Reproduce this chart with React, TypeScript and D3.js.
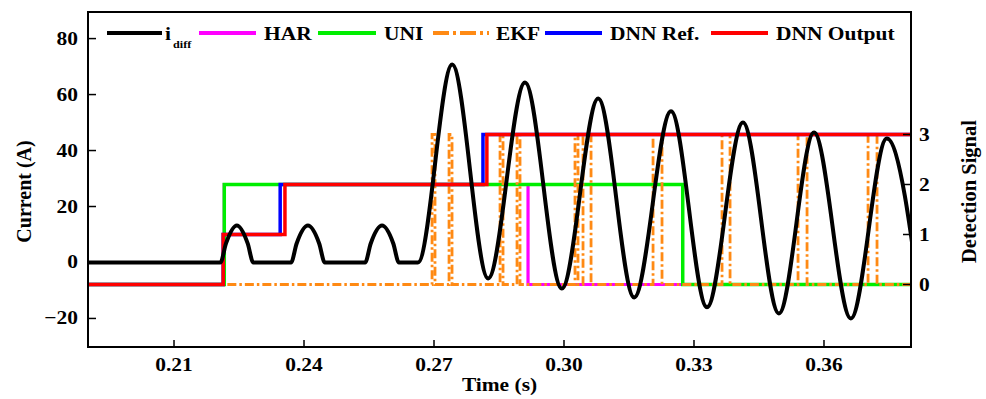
import React from 'react';
import * as d3 from 'd3';

// ---------- data ----------
const xTicks = [0.21, 0.24, 0.27, 0.3, 0.33, 0.36];
const xTickLabels = ['0.21', '0.24', '0.27', '0.30', '0.33', '0.36'];
const yLeftTicks = [-20, 0, 20, 40, 60, 80];
const yLeftTickLabels = ['\u221220', '0', '20', '40', '60', '80'];
const yRightTicks = [0, 1, 2, 3];
const yRightTickLabels = ['0', '1', '2', '3'];

// i_diff key points (time s, current A)
const idiffTime = [
  0.19, 0.2207, 0.222, 0.2245, 0.227, 0.2283,
  0.237, 0.2383, 0.2409, 0.2435, 0.2448,
  0.2541, 0.2554, 0.258, 0.2606, 0.2619,
  0.2663, 0.2742, 0.2825, 0.291, 0.2995, 0.3079, 0.3162, 0.3247,
  0.333, 0.3413, 0.3496, 0.3577, 0.3662, 0.3745, 0.3828,
];
const idiffCurrent = [
  0, 0, 6.8, 13.2, 6.8, 0,
  0, 6.8, 13.2, 6.8, 0,
  0, 6.8, 13.2, 6.8, 0,
  0, 70.7, -5.7, 64.3, -9.3, 58.6, -12.5, 54.0,
  -16.0, 50.0, -18.2, 46.4, -20.0, 44.3, -21.0,
];

// detection signals (step after)
const harTime = [0.19, 0.2216, 0.2917, 0.381];
const harLevel = [0, 2, 0, 0];
const uniTime = [0.19, 0.2216, 0.3274, 0.381];
const uniLevel = [0, 2, 0, 0];
const ekfTime = [
  0.19, 0.26955, 0.27023, 0.27347, 0.27416, 0.28524, 0.28593, 0.28916, 0.28985,
  0.30254, 0.30323, 0.30439, 0.30624, 0.32055, 0.32262, 0.33647, 0.33832,
  0.35401, 0.35609, 0.37017, 0.37224, 0.381,
];
const ekfLevel = [0, 3, 0, 3, 0, 3, 0, 3, 0, 3, 0, 3, 0, 3, 0, 3, 0, 3, 0, 3, 0, 0];
const dnnRefTime = [0.19, 0.22135, 0.2345, 0.2813, 0.381];
const dnnRefLevel = [0, 1, 2, 3, 3];
const dnnOutTime = [0.19, 0.22135, 0.2356, 0.2822, 0.381];
const dnnOutLevel = [0, 1, 2, 3, 3];

// ---------- layout ----------
const W = 986;
const H = 399;
const L = 88, R = 911, T = 12, B = 347;
const FONT = '"Liberation Serif", "Times New Roman", serif';
const SX = 1.16; // horizontal stretch of the reference's text
const FS = 18.5;

const x = d3.scaleLinear().domain([0.19015, 0.38008]).range([L, R]);
const yL = d3.scaleLinear().domain([-30.2, 89.5]).range([B, T]);
const yR = d3.scaleLinear().domain([-1.25, 5.45]).range([B, T]);

const zip = (a: number[], b: number[]) => a.map((v, i) => [v, b[i]] as [number, number]);

const curveLine = d3
  .line<[number, number]>()
  .x((d) => x(d[0]))
  .y((d) => yL(d[1]))
  .curve(d3.curveMonotoneX);
const stepLine = d3
  .line<[number, number]>()
  .x((d) => x(d[0]))
  .y((d) => yR(d[1]))
  .curve(d3.curveStepAfter);

const C_BLACK = '#000000';
const C_MAG = '#ff00ff';
const C_GREEN = '#00ee00';
const C_ORANGE = '#ff8a14';
const C_BLUE = '#0000ff';
const C_RED = '#ff0000';
const EKF_DASH = '9,3,2.5,3';

const legend = [
  { x1: 107, x2: 162, tx: 165, label: 'i', sub: 'diff', color: C_BLACK, dash: undefined },
  { x1: 199, x2: 256, tx: 264, label: 'HAR', color: C_MAG, dash: undefined },
  { x1: 318, x2: 376, tx: 384, label: 'UNI', color: C_GREEN, dash: undefined },
  { x1: 433, x2: 489, tx: 496, label: 'EKF', color: C_ORANGE, dash: '16,4,3,4' },
  { x1: 545, x2: 602, tx: 610, label: 'DNN Ref.', color: C_BLUE, dash: undefined },
  { x1: 711, x2: 768, tx: 776, label: 'DNN Output', color: C_RED, dash: undefined },
];

function SText(props: { x: number; y: number; size: number; anchor?: string; children: React.ReactNode }) {
  const { x: tx, y: ty, size, anchor, children } = props;
  return (
    <text
      transform={`translate(${tx},${ty}) scale(${SX},1)`}
      fontFamily={FONT}
      fontWeight="bold"
      fontSize={size}
      textAnchor={anchor || 'start'}
      fill="#000"
    >
      {children}
    </text>
  );
}

export default function App() {
  return (
    <svg
      width={W}
      height={H}
      style={{ position: 'absolute', left: 0, top: 0, background: '#fff' }}
    >
      <defs>
        <clipPath id="plotClip">
          <rect x={L} y={T} width={R - L} height={B - T} />
        </clipPath>
      </defs>
      <rect x={0} y={0} width={W} height={H} fill="#fff" />

      <g clipPath="url(#plotClip)" fill="none" strokeLinejoin="miter">
        <path d={stepLine(zip(harTime, harLevel)) || ''} stroke={C_MAG} strokeWidth={3.2} />
        <path d={stepLine(zip(uniTime, uniLevel)) || ''} stroke={C_GREEN} strokeWidth={3.5} />
        <path
          d={stepLine(zip(ekfTime, ekfLevel)) || ''}
          stroke={C_ORANGE}
          strokeWidth={2.8}
          strokeDasharray={EKF_DASH}
        />
        <path d={stepLine(zip(dnnRefTime, dnnRefLevel)) || ''} stroke={C_BLUE} strokeWidth={3.5} />
        <path d={stepLine(zip(dnnOutTime, dnnOutLevel)) || ''} stroke={C_RED} strokeWidth={3.5} />
        <path
          d={curveLine(zip(idiffTime, idiffCurrent)) || ''}
          stroke={C_BLACK}
          strokeWidth={4}
          strokeLinejoin="round"
        />
      </g>

      {/* frame */}
      <rect x={L} y={T} width={R - L} height={B - T} fill="none" stroke="#000" strokeWidth={2} />

      {/* x ticks */}
      {xTicks.map((t, i) => (
        <g key={'xt' + i}>
          <line x1={x(t)} x2={x(t)} y1={B} y2={B - 7} stroke="#000" strokeWidth={1.5} />
          <SText x={x(t)} y={371} size={FS}>
            <tspan textAnchor="middle">{xTickLabels[i]}</tspan>
          </SText>
        </g>
      ))}
      {/* left ticks */}
      {yLeftTicks.map((v, i) => (
        <g key={'yl' + i}>
          <line x1={L} x2={L + 8} y1={yL(v)} y2={yL(v)} stroke="#000" strokeWidth={1.5} />
          <SText x={78} y={yL(v) + 6} size={FS} anchor="end">
            {yLeftTickLabels[i]}
          </SText>
        </g>
      ))}
      {/* right ticks */}
      {yRightTicks.map((v, i) => (
        <g key={'yr' + i}>
          <line x1={R} x2={R - 8} y1={yR(v)} y2={yR(v)} stroke="#000" strokeWidth={1.5} />
          <SText x={919} y={yR(v) + 6} size={FS}>
            {yRightTickLabels[i]}
          </SText>
        </g>
      ))}

      {/* axis titles */}
      <SText x={(L + R) / 2} y={391} size={FS} anchor="middle">
        Time (s)
      </SText>
      <text
        transform={`translate(31,${(T + B) / 2 + 12}) rotate(-90)`}
        fontFamily={FONT}
        fontWeight="bold"
        fontSize={20}
        textAnchor="middle"
      >
        Current (A)
      </text>
      <text
        transform={`translate(976,${(T + B) / 2 + 12}) rotate(-90)`}
        fontFamily={FONT}
        fontWeight="bold"
        fontSize={20.5}
        textAnchor="middle"
      >
        Detection Signal
      </text>

      {/* legend */}
      {legend.map((it, i) => (
        <g key={'lg' + i}>
          <line
            x1={it.x1}
            x2={it.x2}
            y1={33}
            y2={33}
            stroke={it.color}
            strokeWidth={4}
            strokeDasharray={it.dash}
          />
          <SText x={it.tx} y={39.5} size={FS}>
            {it.label}
          </SText>
          {it.sub ? (
            <SText x={it.tx + 8} y={48} size={10.5}>
              {it.sub}
            </SText>
          ) : null}
        </g>
      ))}
    </svg>
  );
}
